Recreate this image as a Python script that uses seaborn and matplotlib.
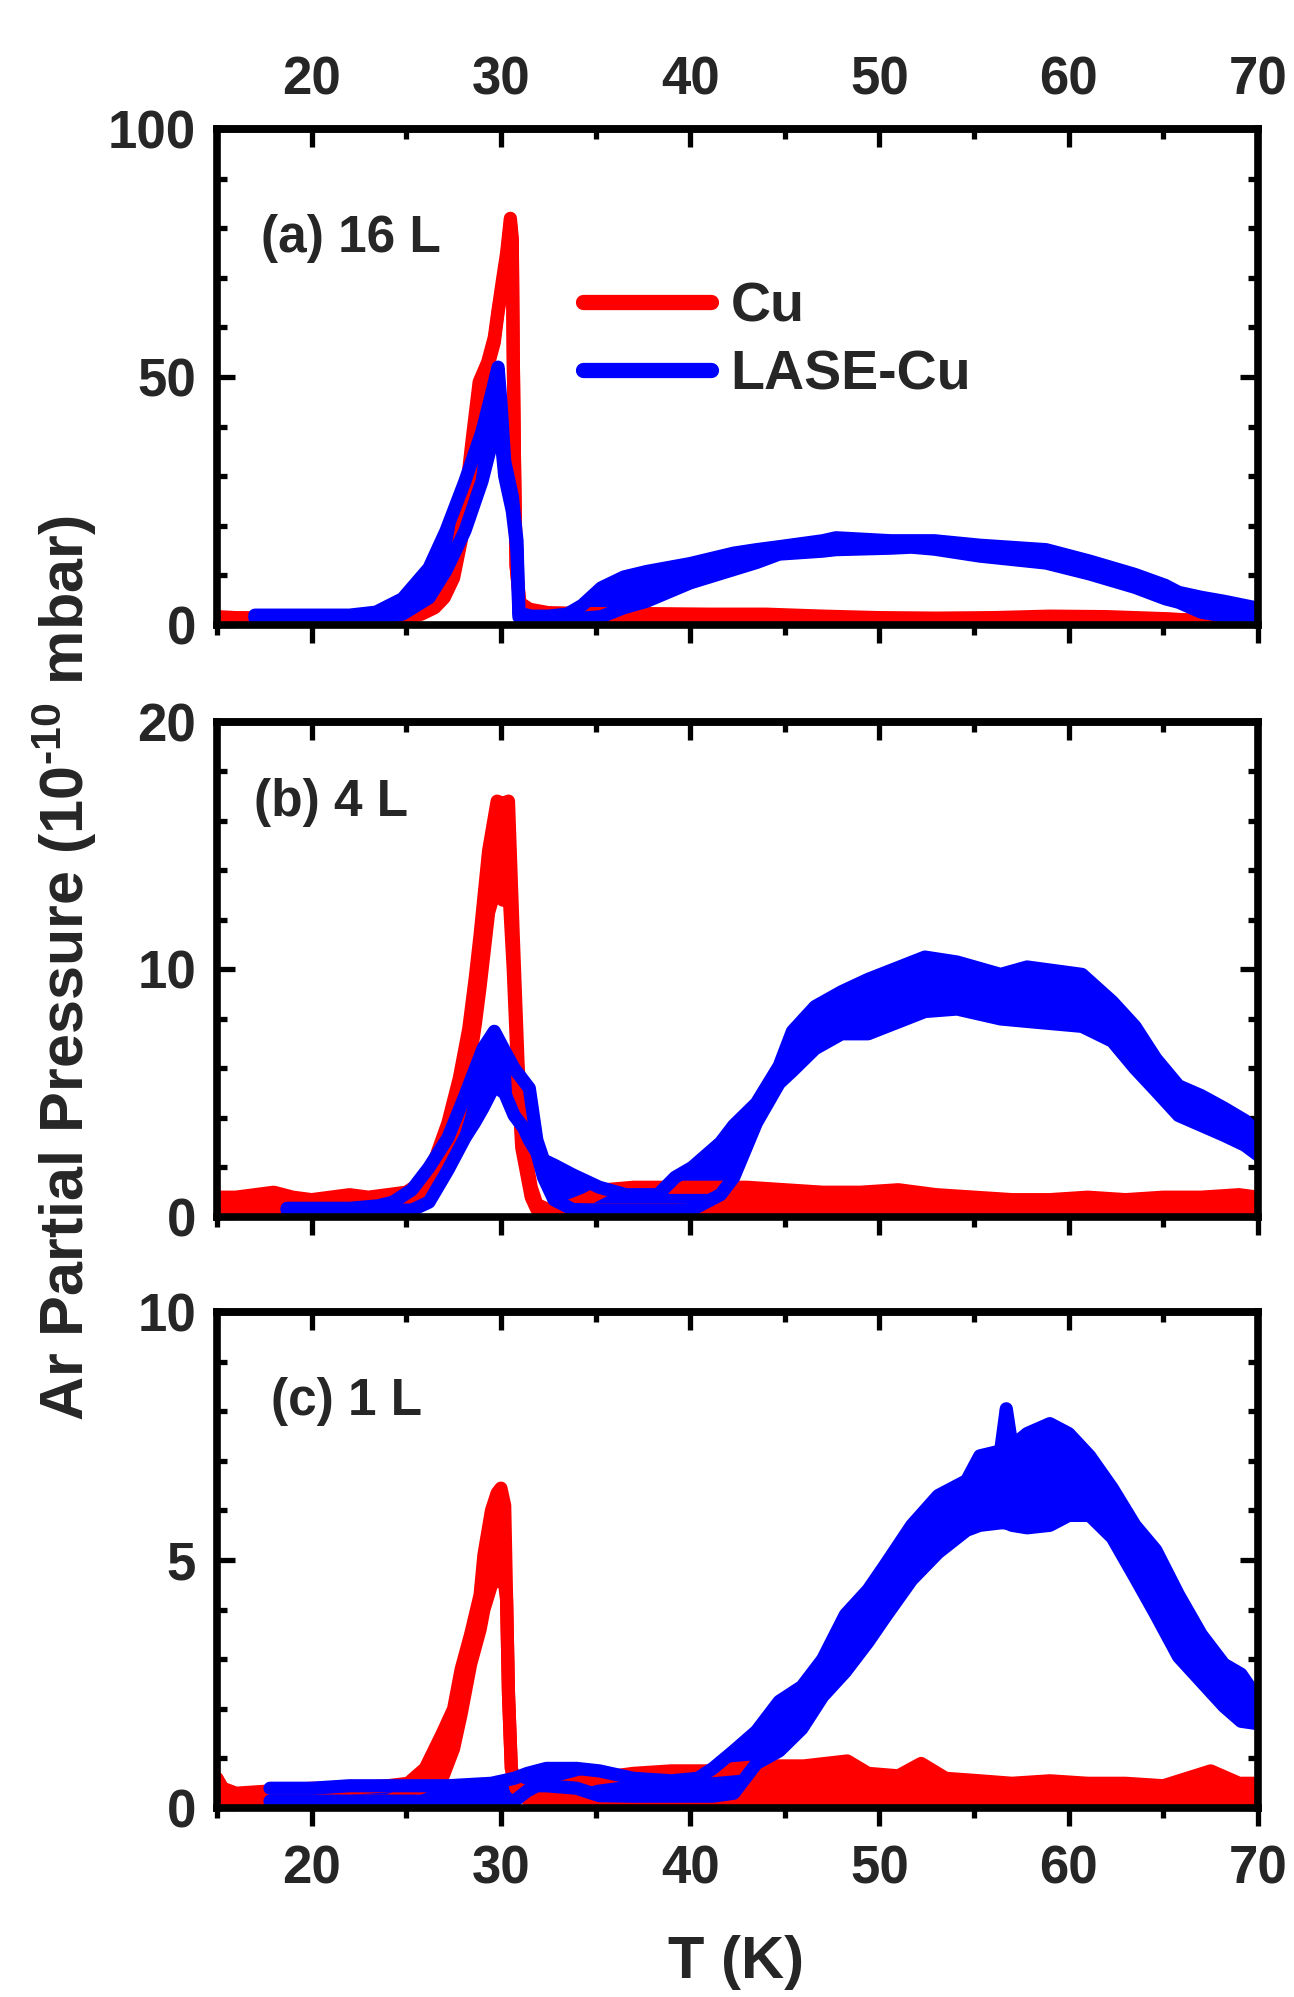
import matplotlib
matplotlib.use("Agg")
import matplotlib.pyplot as plt
from matplotlib.ticker import MultipleLocator
from matplotlib.lines import Line2D
import seaborn as sns

# Ar thermal desorption traces, T in K, pressure in 1e-10 mbar.
# Each noisy trace is stored as the lower / upper envelope of the signal.

# (a) 16 L exposure
t_a_cu = [15, 16, 18, 20, 22, 24, 25, 25.8, 26.5, 27.0, 27.5, 27.9, 28.2, 28.5, 28.85, 29.3,
          29.65, 29.85, 30.1, 30.3, 30.5, 30.6, 30.65, 30.72, 30.8, 31.0, 31.5, 32.5, 35, 38,
          41, 44, 47, 50, 53, 56, 59, 62, 65, 67, 70]
a_cu_hi = [1.7, 1.5, 1.4, 1.3, 1.1, 1.0, 1.4, 2.5, 4.0, 6.5, 11, 19, 28, 38, 49, 53,
           58, 63.5, 70, 75, 82, 78, 55, 32, 12, 4.5, 3.2, 2.5, 2.3, 2.3,
           2.2, 2.2, 1.8, 1.5, 1.4, 1.5, 1.8, 1.7, 1.3, 0.9, 0.6]
a_cu_lo = [1.4, 1.4, 1.4, 1.3, 1.1, 1.0, 1.4, 2.2, 3.5, 5.5, 9.5, 17, 25, 35, 46, 52,
           57, 63, 69, 74, 81, 77, 55, 32, 12, 4.0, 2.2, 1.4, 1.4, 1.4,
           1.4, 1.4, 1.4, 1.3, 1.2, 1.3, 1.4, 1.4, 1.2, 0.9, 0.6]

t_a_lase = [17, 20, 22, 23.4, 24.8, 26.2, 27.1, 28.1, 29.0, 29.4, 29.85, 30.0, 30.2, 30.6, 30.85,
            30.95, 31.6, 32.5, 33.5, 34.3, 35.3, 36.5, 37.7, 40, 42.3, 43.5, 44.7, 47, 47.7, 50.6,
            51.7, 52.9, 55.3, 58.8, 61.1, 63.5, 65.1, 65.8, 67, 68.2, 70]
a_lase_hi = [2.0, 2.0, 2.0, 2.6, 5.3, 11.5, 19, 29, 39, 45, 52, 45, 33, 26, 17,
             2.4, 1.8, 1.8, 2.2, 4.0, 7.5, 9.7, 10.8, 12.4, 14.5, 15.2, 15.8, 17.0, 17.6, 17.0,
             17.0, 17.0, 16.1, 15.2, 12.9, 10.2, 8.0, 6.6, 5.6, 4.8, 3.4]
a_lase_lo = [1.4, 1.4, 1.4, 1.4, 2.2, 5.5, 11, 19, 29, 35, 42, 38, 30, 23, 15,
             1.6, 1.4, 1.4, 1.4, 1.4, 1.7, 3.5, 4.8, 8.5, 11.2, 12.6, 14.3, 14.9, 15.2, 15.5,
             15.7, 15.3, 13.9, 12.5, 10.3, 7.6, 5.3, 4.6, 2.6, 1.8, 1.7]

# (b) 4 L exposure
t_b_cu = [15, 16, 17, 18, 19, 20, 21, 22, 23, 24, 25, 25.8, 26.5, 27.2, 27.8, 28.3, 28.65,
          28.9, 29.35, 29.8, 30.1, 30.4, 30.65, 30.9, 31.1, 31.6, 31.9, 32.5, 33.5, 34.5,
          35.5, 37, 39, 41, 43, 45, 47, 49, 51, 53, 55, 57, 59, 61, 63, 65, 67, 69, 70]
b_cu_hi = [0.8, 0.8, 0.9, 1.0, 0.8, 0.7, 0.8, 0.9, 0.8, 0.9, 1.0, 1.4, 2.3, 3.8, 5.6, 7.6, 9.7,
           11.4, 14.8, 16.8, 16.7, 16.8, 11.4, 6.3, 3.4, 1.2, 0.5, 0.3, 0.4, 0.7,
           1.1, 1.2, 1.2, 1.2, 1.2, 1.1, 1.0, 1.0, 1.1, 0.9, 0.8, 0.7, 0.7, 0.8, 0.7, 0.8, 0.8, 0.9, 0.8]
b_cu_lo = [0.28, 0.28, 0.28, 0.28, 0.28, 0.28, 0.28, 0.28, 0.28, 0.28, 0.3, 1.0, 1.6, 2.7, 4.2, 6.0, 7.8,
           9.3, 12.3, 13.5, 12.8, 13.5, 10.0, 5.5, 2.8, 0.8, 0.3, 0.28, 0.28, 0.28,
           0.28, 0.28, 0.28, 0.28, 0.28, 0.28, 0.28, 0.28, 0.28, 0.28, 0.28, 0.28, 0.28, 0.28, 0.28,
           0.28, 0.28, 0.28, 0.28]

t_b_lase = [18.7, 20, 22, 23.5, 24.3, 25.3, 26.2, 27.2, 28.1, 28.6, 29.05, 29.65, 30.2, 30.7, 31.2,
            31.5, 31.9, 32.25, 32.8, 33.8, 35.2, 36.6, 38.3, 39.2, 40.1, 41.6, 42.3, 43.5, 44.7, 45.4,
            46.6, 48, 49.4, 52.4, 54.1, 56.4, 57.8, 60.7, 62.3, 63.5, 64.6, 65.8, 67, 68.2, 69.3, 70]
b_lase_hi = [0.35, 0.35, 0.35, 0.45, 0.6, 1.1, 2.0, 3.2, 4.9, 5.9, 6.8, 7.5, 6.7, 6.0, 5.5,
             5.2, 3.1, 2.3, 2.1, 1.7, 1.2, 0.9, 0.9, 1.6, 2.0, 3.0, 3.7, 4.6, 6.1, 7.5,
             8.5, 9.1, 9.6, 10.5, 10.3, 9.8, 10.1, 9.8, 8.7, 7.7, 6.4, 5.3, 4.9, 4.4, 3.9, 3.4]
b_lase_lo = [0.28, 0.28, 0.28, 0.28, 0.28, 0.28, 0.6, 1.9, 3.2, 3.8, 4.4, 5.3, 5.0, 4.1, 3.6,
             3.1, 2.6, 1.6, 0.7, 0.3, 0.28, 0.28, 0.28, 0.28, 0.3, 0.9, 1.6, 3.8, 5.4, 5.9,
             6.8, 7.4, 7.4, 8.3, 8.4, 8.0, 7.9, 7.7, 7.1, 6.0, 5.1, 4.1, 3.7, 3.3, 2.9, 2.5]

# (c) 1 L exposure
t_c_cu = [15, 15.3, 16, 18, 20, 22, 24, 25.1, 26.0, 26.9, 27.5, 27.9, 28.4, 28.9, 29.1,
          29.5, 29.8, 30.0, 30.2, 30.3, 30.4, 30.55, 30.8, 31.5, 33, 35, 37, 39, 41, 42.5,
          44, 46, 48.3, 49.4, 51, 52.2, 53.5, 55.3, 57, 59, 61, 63, 65, 67.5, 69, 70]
c_cu_hi = [0.6, 0.4, 0.3, 0.35, 0.4, 0.4, 0.45, 0.5, 0.8, 1.5, 2.0, 2.8, 3.5, 4.3, 5.1,
           6.0, 6.35, 6.45, 6.1, 4.2, 2.3, 0.8, 0.4, 0.3, 0.4, 0.6, 0.7, 0.75, 0.75, 0.8,
           0.85, 0.85, 0.95, 0.7, 0.65, 0.9, 0.6, 0.55, 0.5, 0.55, 0.5, 0.5, 0.45, 0.75, 0.5, 0.5]
c_cu_lo = [0.14, 0.14, 0.14, 0.14, 0.14, 0.14, 0.14, 0.3, 0.45, 0.6, 1.2, 1.9, 2.9, 3.6, 4.0,
           4.5, 4.6, 4.6, 4.5, 4.2, 2.3, 0.8, 0.4, 0.14, 0.14, 0.14, 0.14, 0.14, 0.14, 0.14,
           0.14, 0.14, 0.14, 0.14, 0.14, 0.14, 0.14, 0.14, 0.14, 0.14, 0.14, 0.14, 0.14, 0.14, 0.14, 0.14]

t_c_lase = [17.8, 20, 22, 24.8, 27.2, 29.5, 30.7, 31.4, 31.9, 32.4, 34, 35.2, 37, 39, 40.4,
            41.2, 42.3, 43.5, 44.7, 45.9, 47, 48.2, 49.4, 50.3, 51.7, 53.1, 54.6, 55.3, 56.4, 56.7,
            57.0, 57.8, 59, 60, 61.1, 62.3, 63.5, 64.6, 65.8, 67, 68.2, 69.1, 70]
c_lase_hi = [0.4, 0.4, 0.45, 0.45, 0.45, 0.5, 0.6, 0.7, 0.75, 0.8, 0.8, 0.75, 0.6, 0.55, 0.6,
             0.8, 1.15, 1.55, 2.15, 2.45, 3.0, 3.9, 4.4, 4.9, 5.7, 6.3, 6.6, 7.1, 7.2, 8.05,
             7.3, 7.55, 7.75, 7.55, 7.1, 6.45, 5.7, 5.2, 4.3, 3.5, 2.9, 2.7, 2.2]
c_lase_lo = [0.14, 0.14, 0.14, 0.14, 0.14, 0.14, 0.14, 0.35, 0.45, 0.45, 0.4, 0.25, 0.24, 0.24, 0.24,
             0.24, 0.3, 0.9, 1.15, 1.6, 2.25, 2.75, 3.35, 3.85, 4.6, 5.15, 5.6, 5.7, 5.75, 5.75,
             5.7, 5.65, 5.7, 5.9, 5.9, 5.45, 4.65, 3.9, 3.05, 2.55, 2.05, 1.75, 1.7]

panel_labels = ["(a) 16 L", "(b) 4 L", "(c) 1 L"]
series_names = ["Cu", "LASE-Cu"]
y_max = [100, 20, 10]
x_ticks = [20, 30, 40, 50, 60, 70]

panels = [
    ((t_a_cu, a_cu_lo, a_cu_hi), (t_a_lase, a_lase_lo, a_lase_hi)),
    ((t_b_cu, b_cu_lo, b_cu_hi), (t_b_lase, b_lase_lo, b_lase_hi)),
    ((t_c_cu, c_cu_lo, c_cu_hi), (t_c_lase, c_lase_lo, c_lase_hi)),
]

sns.set_theme(style="ticks")
plt.rcParams["font.family"] = ["Liberation Sans", "DejaVu Sans"]
plt.rcParams["font.weight"] = "bold"
plt.rcParams["mathtext.fontset"] = "custom"
plt.rcParams["mathtext.rm"] = "Liberation Sans:bold"
plt.rcParams["mathtext.default"] = "rm"

colors = ["#ff0000", "#0000ff"]
FS = 38
LW_TRACE = 9.5
SPINE_W = 5.5
TICK_W = 3.8

fig = plt.figure(figsize=(12.94, 19.97), dpi=100)
boxes = [(0.1677, 0.6870, 0.8045, 0.2484),
         (0.1677, 0.3906, 0.8045, 0.2479),
         (0.1677, 0.0946, 0.8045, 0.2484)]
label_pos = [(0.042, 0.78), (0.036, 0.838), (0.052, 0.82)]

for i, (box, traces) in enumerate(zip(boxes, panels)):
    ax = fig.add_axes(box)
    for (t, lo, hi), col in zip(traces, colors):
        ax.fill_between(t, lo, hi, color=col, lw=0)
        for edge in (lo, hi):
            sns.lineplot(x=t, y=edge, ax=ax, color=col, lw=LW_TRACE, sort=False,
                         estimator=None, solid_capstyle="round", solid_joinstyle="round")

    ax.set_xlim(15, 70)
    ax.set_ylim(0, y_max[i])
    ax.set_xlabel("")
    ax.set_ylabel("")
    ax.set_xticks(x_ticks)
    ax.xaxis.set_minor_locator(MultipleLocator(5))
    ax.yaxis.set_major_locator(MultipleLocator(y_max[i] / 2))
    ax.yaxis.set_minor_locator(MultipleLocator(y_max[i] / 10))
    ax.set_yticklabels([f"{v:g}" for v in ax.get_yticks()])

    for sp in ax.spines.values():
        sp.set_linewidth(SPINE_W)
        sp.set_visible(True)
        sp.set_color("black")

    ax.tick_params(axis="x", which="both", direction="out", bottom=True, top=False,
                   labelbottom=(i == 2), width=TICK_W, labelsize=FS, pad=13, color="black")
    ax.tick_params(axis="x", which="major", length=13)
    ax.tick_params(axis="x", which="minor", length=7)
    ax.tick_params(axis="y", which="both", direction="in", left=True, right=True,
                   width=TICK_W, labelsize=FS, pad=15, color="black")
    ax.tick_params(axis="y", which="major", length=13)
    ax.tick_params(axis="y", which="minor", length=7)

    top = ax.secondary_xaxis("top")
    top.set_xticks(x_ticks)
    top.xaxis.set_minor_locator(MultipleLocator(5))
    top.tick_params(axis="x", which="both", direction="in", width=TICK_W,
                    labelsize=FS, pad=17, labeltop=(i == 0), color="black")
    top.tick_params(axis="x", which="major", length=13)
    top.tick_params(axis="x", which="minor", length=7)
    top.spines["top"].set_linewidth(SPINE_W)

    ax.text(label_pos[i][0], label_pos[i][1], panel_labels[i], transform=ax.transAxes,
            fontsize=37, fontweight="bold", ha="left", va="center")

    if i == 0:
        handles = [Line2D([0], [0], color=c, lw=11, solid_capstyle="round") for c in colors]
        ax.legend(handles, series_names, loc="center left", bbox_to_anchor=(0.352, 0.572),
                  frameon=False, fontsize=40, handlelength=2.3, handletextpad=0.35,
                  labelspacing=0.28, borderpad=0, borderaxespad=0)

fig.text(0.0495, 0.5153, r"Ar Partial Pressure (10$^{\text{-10}}$ mbar)", rotation=90,
         ha="center", va="center", fontsize=44, fontweight="bold")
fig.text(0.569, 0.0175, "T (K)", ha="center", va="center", fontsize=43, fontweight="bold")

fig.savefig("out.png", dpi=100)
